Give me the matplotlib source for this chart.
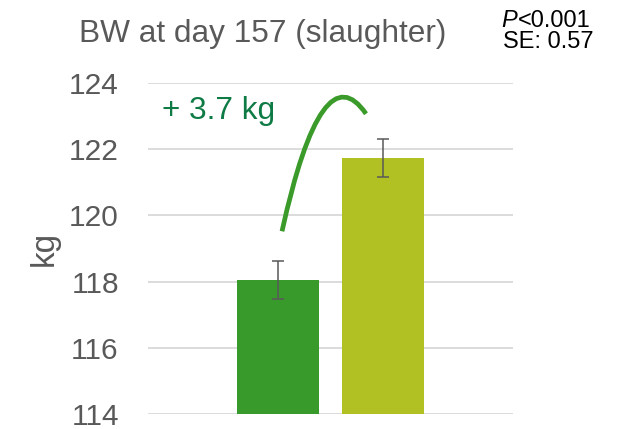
import numpy as np
import matplotlib
matplotlib.use('Agg')
import matplotlib.pyplot as plt
from matplotlib.path import Path
from matplotlib.patches import PathPatch

plt.rcParams['font.family'] = ['Liberation Sans', 'DejaVu Sans']

# data
groups = ['Control', 'Treatment']
bw_means = [118.05, 121.73]
bw_se = [0.58, 0.57]
bar_colors = ['#379A2B', '#B1C124']
y_ticks = [114, 116, 118, 120, 122, 124]

title = 'BW at day 157 (slaughter)'
diff_label = '+ 3.7 kg'
p_label = '<0.001'
se_label = 'SE: 0.57'

grey = '#595959'

fig = plt.figure(figsize=(6.18, 4.29), dpi=100)
ax = fig.add_axes([148 / 618, 1 - 414 / 429, 365 / 618, 331 / 429])

# one category, two series side by side (Excel style)
offsets = [-0.1425, 0.1425]
width = 0.2247
ax.bar(offsets, [m - y_ticks[0] for m in bw_means], bottom=y_ticks[0],
       width=width, color=bar_colors, zorder=2)
ax.errorbar(offsets, bw_means, yerr=bw_se, fmt='none', ecolor=grey,
            elinewidth=1.1, capsize=4.5, capthick=1.1, zorder=3)

ax.set_xlim(-0.5, 0.5)
ax.set_ylim(y_ticks[0], y_ticks[-1])
ax.set_yticks(y_ticks)
ax.set_xticks([])
ax.yaxis.grid(True, color='#D9D9D9', linewidth=1.3, zorder=0)
ax.set_axisbelow(True)
for s in ax.spines.values():
    s.set_visible(False)
ax.tick_params(axis='y', length=0, pad=21, labelsize=21.5, labelcolor=grey)
ax.set_ylabel('kg', fontsize=24, color=grey)
ax.yaxis.set_label_coords(-0.241, 0.5)

# curved connector between the bars
arc_pts = [(-0.1329, 119.52), (-0.0233, 125.01), (0.0973, 123.07)]
arc = PathPatch(Path(arc_pts, [Path.MOVETO, Path.CURVE3, Path.CURVE3]),
                facecolor='none', edgecolor='#3A9A2A', linewidth=3.4,
                capstyle='butt', clip_on=False, zorder=4)
ax.add_patch(arc)
ax.text(161.7 / 618, 1 - 119.3 / 429, diff_label, transform=fig.transFigure,
        fontsize=22.7, color='#0E7B45', va='baseline', ha='left')

fig.text(263 / 618, 1 - 42 / 429, title, fontsize=22.8, color=grey,
         ha='center', va='baseline')

p_txt = fig.text(501.7 / 618, 1 - 26.7 / 429, 'P', fontsize=17,
                 style='italic', color='black', va='baseline', ha='left')
ax.annotate(p_label, xy=(1, 0), xycoords=p_txt, fontsize=17, color='black',
            va='bottom', ha='left', annotation_clip=False)
fig.text(502.7 / 618, 1 - 48.3 / 429, se_label, fontsize=17, color='black',
         va='baseline', ha='left')

fig.savefig('out.png', dpi=100)
